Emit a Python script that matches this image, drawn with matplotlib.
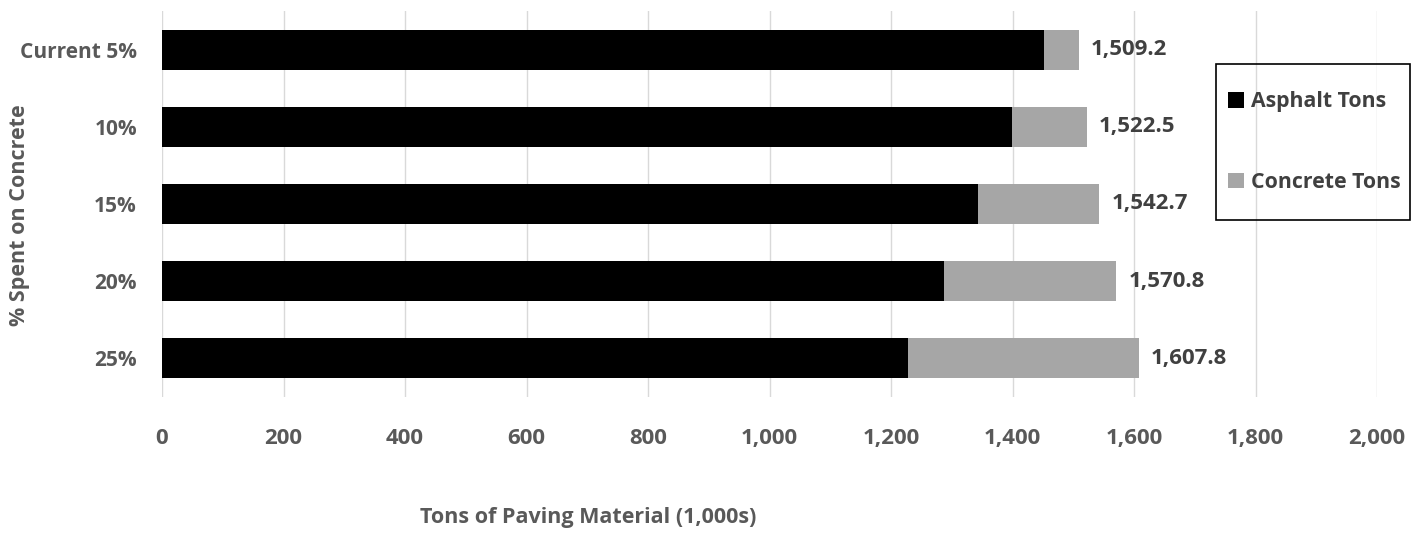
import matplotlib.pyplot as plt
from matplotlib.patches import Rectangle
import numpy as np

plt.rcParams['font.family'] = ['Open Sans', 'DejaVu Sans']

# data (1,000s of tons)
scenarios = ['Current 5%', '10%', '15%', '20%', '25%']
asphalt = [1451.7, 1399.4, 1343.5, 1287.7, 1227.6]
totals = [1509.2, 1522.5, 1542.7, 1570.8, 1607.8]
concrete = [t - a for t, a in zip(totals, asphalt)]
xticks = [0, 200, 400, 600, 800, 1000, 1200, 1400, 1600, 1800, 2000]

txt = '#595959'

fig = plt.figure(figsize=(14.24, 5.33), dpi=100)
ax = fig.add_axes([162/1424, 1 - 397/533, (1377 - 162)/1424, (397 - 11)/533])

y = np.arange(len(scenarios))
ax.barh(y, asphalt, height=0.52, color='#000000', label='Asphalt Tons', zorder=3)
ax.barh(y, concrete, left=asphalt, height=0.52, color='#a6a6a6',
        label='Concrete Tons', zorder=3)

for yi, t in zip(y, totals):
    ax.text(t + 20, yi, '{:,.1f}'.format(t), va='center', ha='left',
            fontsize=16, fontweight='bold', color='#404040')

ax.set_xlim(0, 2000)
ax.set_ylim(len(scenarios) - 0.5, -0.5)
ax.set_yticks(y)
ax.set_yticklabels(scenarios)
ax.set_xticks(xticks)
ax.set_xticklabels(['{:,}'.format(v) for v in xticks])
ax.tick_params(length=0, labelsize=15, labelcolor=txt)
ax.tick_params(axis='x', pad=22, labelsize=16)
ax.tick_params(axis='y', pad=18)
for lab in ax.get_xticklabels() + ax.get_yticklabels():
    lab.set_fontweight('bold')

ax.grid(axis='x', color='#d9d9d9', linewidth=1, zorder=0)
for s in ax.spines.values():
    s.set_visible(False)

fig.text(588/1424, 1 - 518/533, 'Tons of Paving Material (1,000s)', ha='center',
         va='center', fontsize=15.5, fontweight='bold', color=txt)
fig.text(20/1424, 1 - 215/533, '% Spent on Concrete', rotation=90, ha='center',
         va='center', fontsize=15.5, fontweight='bold', color=txt)

# legend box drawn separately so the padding can differ per side
fig.patches.append(Rectangle((1216/1424, 1 - 220/533), 194/1424, 156/533,
                             transform=fig.transFigure, fill=False,
                             edgecolor='#000000', linewidth=1.2, zorder=5))
leg = ax.legend(loc='center left', bbox_to_anchor=(1228/1424, 1 - 142/533),
                bbox_transform=fig.transFigure, frameon=False,
                fontsize=15.3, handlelength=0.75, handleheight=0.75, handletextpad=0.35,
                labelspacing=2.8, borderpad=0, borderaxespad=0)
for t in leg.get_texts():
    t.set_fontweight('bold')
    t.set_color('#404040')

fig.savefig('out.png', dpi=100)
